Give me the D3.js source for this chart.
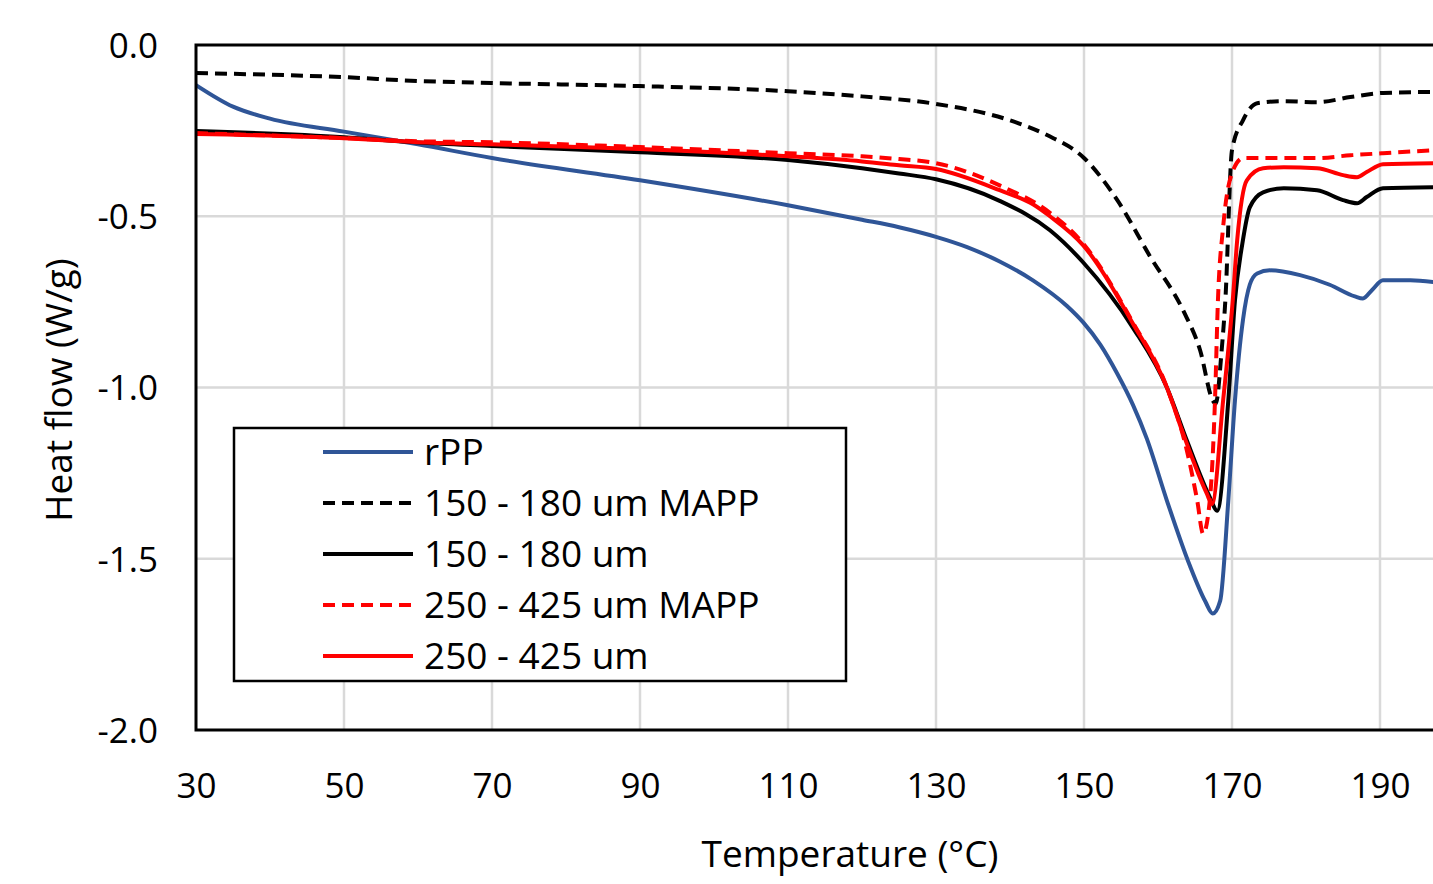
<!DOCTYPE html>
<html>
<head>
<meta charset="utf-8">
<script src="https://cdn.jsdelivr.net/npm/d3@7"></script>
<style>
  body { margin: 0; background: #fff; }
  text { font-family: "Open Sans", "Noto Sans", sans-serif; fill: #000; }
</style>
</head>
<body>
<div id="chart"></div>
<script>
// DSC curves: [temperature C, heat flow W/g]
var rPP = [[30,-0.117],[35,-0.18],[40,-0.215],[50,-0.253],[60,-0.29],[70,-0.33],[90,-0.395],[110,-0.468],[120,-0.51],
  [125,-0.532],[130,-0.56],[134.2,-0.59],[138.6,-0.632],[143.1,-0.687],[147.7,-0.762],[149.9,-0.81],[152.2,-0.875],
  [154.5,-0.96],[156.6,-1.05],[158.5,-1.15],[161.2,-1.33],[164.3,-1.52],[166.4,-1.625],[167.4,-1.66],[168.4,-1.623],
  [169.5,-1.33],[170.4,-1.038],[171.5,-0.80],[172.4,-0.70],[173.4,-0.667],[175.1,-0.658],[179.2,-0.672],[183.2,-0.70],
  [186.6,-0.734],[187.7,-0.74],[188.9,-0.716],[190.4,-0.687],[194.1,-0.687],[197.5,-0.693]];
var mapp150 = [[30,-0.082],[50,-0.094],[60,-0.105],[70,-0.111],[90,-0.12],[110,-0.135],[120,-0.15],[130,-0.172],
  [140,-0.22],[145,-0.263],[150,-0.33],[154.5,-0.453],[159,-0.62],[163.4,-0.775],[165.7,-0.892],[167.4,-1.038],
  [167.8,-1.047],[168.6,-0.892],[169.1,-0.746],[170,-0.307],[171.5,-0.219],[173.4,-0.17],[177,-0.164],
  [181.5,-0.167],[186,-0.152],[190.4,-0.14],[197.5,-0.137]];
var um150 = [[30,-0.251],[50,-0.269],[60,-0.285],[70,-0.295],[90,-0.313],[110,-0.336],[120,-0.36],[125,-0.375],
  [130,-0.392],[138.6,-0.455],[145.4,-0.541],[149.9,-0.635],[156.6,-0.825],[161.2,-1.0],[163.9,-1.155],[167,-1.32],
  [168,-1.36],[169.5,-1.038],[170.4,-0.746],[171.4,-0.58],[172.4,-0.474],[174.2,-0.43],[177,-0.418],[181.5,-0.424],
  [185,-0.453],[186.9,-0.462],[188.2,-0.444],[190.4,-0.418],[197.5,-0.415]];
var mapp250 = [[30,-0.257],[50,-0.272],[60,-0.281],[70,-0.284],[90,-0.298],[110,-0.316],[120,-0.325],[125,-0.333],
  [130,-0.345],[138.6,-0.41],[145.4,-0.49],[149.9,-0.58],[156.6,-0.81],[161.2,-1.0],[163.9,-1.184],[165.3,-1.33],
  [166.1,-1.427],[167,-1.33],[167.7,-1.038],[168.1,-0.746],[168.8,-0.532],[170,-0.374],[171.5,-0.33],[177,-0.33],
  [181.5,-0.33],[186,-0.322],[190.4,-0.316],[197.5,-0.307]];
var um250 = [[30,-0.26],[50,-0.272],[60,-0.284],[70,-0.29],[90,-0.304],[110,-0.325],[120,-0.34],[125,-0.351],
  [130,-0.362],[138.6,-0.424],[143.1,-0.465],[145.4,-0.5],[149.9,-0.585],[156.6,-0.813],[161.2,-1.0],[163.4,-1.135],
  [166.6,-1.31],[167.3,-1.34],[168.8,-1.038],[170.1,-0.746],[170.7,-0.57],[172,-0.395],[174.2,-0.36],[177,-0.357],
  [181.5,-0.36],[185,-0.38],[186.9,-0.386],[188.2,-0.371],[190.4,-0.348],[197.5,-0.345]];

var seriesNames = ["rPP", "150 - 180 um MAPP", "150 - 180 um", "250 - 425 um MAPP", "250 - 425 um"];
var seriesData = [rPP, mapp150, um150, mapp250, um250];
var seriesColors = ["#2f5597", "#000000", "#000000", "#ff0000", "#ff0000"];
var seriesDash = [null, "12,7", null, "12,7", null];
var xTicks = [30, 50, 70, 90, 110, 130, 150, 170, 190];
var yTicks = [0, -0.5, -1.0, -1.5, -2.0];

var W = 1433, H = 884;
var plotLeft = 196, plotTop = 45, plotBottom = 730;

var svg = d3.select("#chart").append("svg")
  .attr("width", W).attr("height", H);

var x = d3.scaleLinear().domain([30, 200]).range([plotLeft, plotLeft + 170 * 7.4]);
var y = d3.scaleLinear().domain([-2, 0]).range([plotBottom, plotTop]);

// grid
svg.selectAll(".gridv").data(xTicks.slice(1)).enter()
  .append("line")
  .attr("x1", d => x(d)).attr("x2", d => x(d))
  .attr("y1", plotTop).attr("y2", plotBottom)
  .style("stroke", "#d9d9d9").style("stroke-width", 2.5);
svg.selectAll(".gridh").data(yTicks.slice(1, 4)).enter()
  .append("line")
  .attr("x1", plotLeft).attr("x2", W)
  .attr("y1", d => y(d)).attr("y2", d => y(d))
  .style("stroke", "#d9d9d9").style("stroke-width", 2.5);

// axes labels
var xAxis = svg.append("g")
  .attr("transform", "translate(0," + plotBottom + ")")
  .call(d3.axisBottom(x).tickValues(xTicks).tickSize(0).tickPadding(56));
xAxis.select(".domain").remove();
xAxis.selectAll("text").style("font-size", "35px").attr("dy", "0.35em");

var yAxis = svg.append("g")
  .attr("transform", "translate(" + plotLeft + ",0)")
  .call(d3.axisLeft(y).tickValues(yTicks).tickSize(0).tickPadding(38)
    .tickFormat(d => d.toFixed(1)));
yAxis.select(".domain").remove();
yAxis.selectAll("text").style("font-size", "35px").attr("dy", "0.35em");

// curves
var line = d3.line()
  .x(d => x(d[0]))
  .y(d => y(d[1]))
  .curve(d3.curveMonotoneX);

svg.append("clipPath").attr("id", "clip")
  .append("rect").attr("x", plotLeft).attr("y", plotTop).attr("width", W - plotLeft).attr("height", plotBottom - plotTop);

svg.append("g").attr("clip-path", "url(#clip)")
  .selectAll(".series").data(seriesData).enter()
  .append("path")
  .attr("d", line)
  .style("fill", "none")
  .style("stroke", (d, i) => seriesColors[i])
  .style("stroke-width", 4)
  .style("stroke-dasharray", (d, i) => seriesDash[i])
  .style("stroke-linejoin", "round");

// plot border (left, top, bottom)
svg.append("path")
  .attr("d", "M" + W + "," + plotTop + " H" + plotLeft + " V" + plotBottom + " H" + W)
  .style("fill", "none").style("stroke", "#000").style("stroke-width", 3);

// axis titles
svg.append("text")
  .attr("x", 850).attr("y", 867)
  .attr("text-anchor", "middle")
  .style("font-size", "37px")
  .text("Temperature (°C)");
svg.append("text")
  .attr("transform", "translate(72,390) rotate(-90)")
  .attr("text-anchor", "middle")
  .style("font-size", "37px")
  .text("Heat flow (W/g)");

// legend
var lg = svg.append("g");
lg.append("rect")
  .attr("x", 234).attr("y", 428).attr("width", 612).attr("height", 253)
  .style("fill", "#fff").style("stroke", "#000").style("stroke-width", 2.5);
var rows = lg.selectAll(".row").data(seriesNames).enter()
  .append("g")
  .attr("transform", (d, i) => "translate(0," + (452 + i * 51) + ")");
rows.append("line")
  .attr("x1", 323).attr("x2", 413)
  .style("stroke", (d, i) => seriesColors[i])
  .style("stroke-width", 4)
  .style("stroke-dasharray", (d, i) => seriesDash[i]);
rows.append("text")
  .attr("x", 424).attr("dy", "0.35em")
  .style("font-size", "37px")
  .text(d => d);
</script>
</body>
</html>
